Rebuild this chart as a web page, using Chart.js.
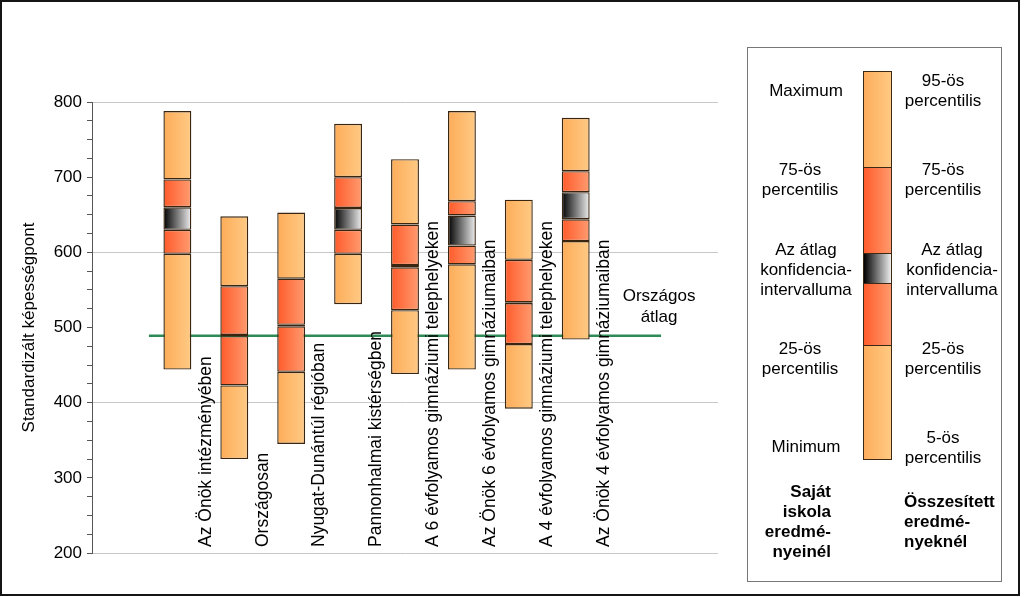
<!DOCTYPE html>
<html>
<head>
<meta charset="utf-8">
<script src="https://cdn.jsdelivr.net/npm/chart.js@4.4.1/dist/chart.umd.min.js"></script>
<style>
  body { margin: 0; background: #fff; font-family: "Liberation Sans", Arial, sans-serif; }
  #wrap { position: relative; width: 1024px; height: 597px; }
  #frame { position: absolute; left: 0; top: 0; width: 1016px; height: 592px; border: 2px solid #151515; }
  #chart { position: absolute; left: 0; top: 0; }
  #legend { position: absolute; left: 747px; top: 47px; width: 255px; height: 535px; border: 1px solid #777; box-sizing: border-box; }
  .t { position: absolute; font-size: 17px; line-height: 20px; color: #000; white-space: nowrap; }
  .c { text-align: center; }
  .b { font-weight: bold; }
  .seg { position: absolute; left: 863px; width: 29px; box-sizing: border-box; border: 1px solid #3c2814; }
</style>
</head>
<body>
<div id="wrap">
  <canvas id="chart" width="1024" height="597"></canvas>
  <div id="frame"></div>
  <div id="legend"></div>
  <div class="seg" style="top:71px;height:97px;background:linear-gradient(to right,#fdae5c,#ffc983)"></div>
  <div class="seg" style="top:167px;height:87px;background:linear-gradient(to right,#ff5c2c,#ff9a6c)"></div>
  <div class="seg" style="top:253px;height:31px;background:linear-gradient(to right,#000,#eee)"></div>
  <div class="seg" style="top:283px;height:63px;background:linear-gradient(to right,#ff5c2c,#ff9a6c)"></div>
  <div class="seg" style="top:345px;height:115px;background:linear-gradient(to right,#fdae5c,#ffc983)"></div>

  <div class="t c" style="left:746px;width:120px;top:81px">Maximum</div>
  <div class="t c" style="left:740px;width:120px;top:160px">75-ös<br>percentilis</div>
  <div class="t c" style="left:746px;width:120px;top:240px">Az átlag<br>konfidencia-<br>intervalluma</div>
  <div class="t c" style="left:740px;width:120px;top:339px">25-ös<br>percentilis</div>
  <div class="t c" style="left:746px;width:120px;top:437px">Minimum</div>
  <div class="t b" style="right:193px;top:482px;text-align:right">Saját<br>iskola<br>eredmé-<br>nyeinél</div>

  <div class="t c" style="left:883px;width:120px;top:71px">95-ös<br>percentilis</div>
  <div class="t c" style="left:883px;width:120px;top:160px">75-ös<br>percentilis</div>
  <div class="t c" style="left:892px;width:120px;top:240px">Az átlag<br>konfidencia-<br>intervalluma</div>
  <div class="t c" style="left:883px;width:120px;top:339px">25-ös<br>percentilis</div>
  <div class="t c" style="left:883px;width:120px;top:428px">5-ös<br>percentilis</div>
  <div class="t b" style="left:904px;top:492px">Összesített<br>eredmé-<br>nyeknél</div>
</div>
<script>
const categories = [
  "Az Önök intézményében",
  "Országosan",
  "Nyugat-Dunántúl régióban",
  "Pannonhalmai kistérségben",
  "A 6 évfolyamos gimnáziumi telephelyeken",
  "Az Önök 6 évfolyamos gimnáziumaiban",
  "A 4 évfolyamos gimnáziumi telephelyeken",
  "Az Önök 4 évfolyamos gimnáziumaiban",
];
const minimum = [444, 325, 345, 531, 438, 444, 392, 484];
const p25     = [598, 423, 441, 598, 523, 584, 478, 615];
const ciLow   = [630, 488.5, 501.5, 630, 580, 609, 532.5, 644];
const ciHigh  = [660, 490, 503.5, 659, 583, 649, 533.5, 680];
const p75     = [697, 555, 565, 700, 637, 668, 590, 708];
const maximum = [788, 648, 653, 771, 724, 788, 670, 779];
const nationalAvg = 489;
const yTicks = [200, 300, 400, 500, 600, 700, 800];

// one empty slot before the bars, two after
const slots = ["", ...categories, "", ""];
const pad = arr => [null, ...arr, null, null];
const range = (lo, hi) => pad(lo.map((v, i) => [v, hi[i]]));

const LIGHT = ["#fdac58", "#ffca85"];
const RED = ["#ff5a2a", "#ff9c70"];
const CI = ["#000000", "#f0f0f0"];

function grad(cols) {
  return ctx => {
    const ch = ctx.chart, xs = ch.scales && ch.scales.x;
    if (ctx.type !== "data" || !xs) return cols[0];
    const cx = xs.getPixelForValue(ctx.dataIndex);
    if (!Number.isFinite(cx)) return cols[0];
    const g = ch.ctx.createLinearGradient(cx - 14, 0, cx + 14, 0);
    g.addColorStop(0, cols[0]);
    g.addColorStop(1, cols[1]);
    return g;
  };
}

function seg(data, cols) {
  return {
    type: "bar", data, backgroundColor: grad(cols),
    borderColor: "#3a2610", borderWidth: 1.4, borderSkipped: false,
    grouped: false, categoryPercentage: 1, barPercentage: 0.49,
  };
}

const labelPlugin = {
  id: "labels",
  afterDatasetsDraw(chart) {
    const { ctx, scales: { x, x2, y } } = chart;
    ctx.save();
    ctx.font = "17.5px 'Liberation Sans', Arial, sans-serif";
    ctx.fillStyle = "#000";
    ctx.textAlign = "left";
    ctx.textBaseline = "middle";
    categories.forEach((c, i) => {
      const px = (x.getPixelForValue(i + 1) + x.getPixelForValue(i + 2)) / 2;
      ctx.save();
      ctx.translate(px, 547);
      ctx.rotate(-Math.PI / 2);
      ctx.fillText(c, 0, 0);
      ctx.restore();
    });
    const ax = x2.getPixelForValue(10), ay = y.getPixelForValue(nationalAvg);
    ctx.font = "17px 'Liberation Sans', Arial, sans-serif";
    ctx.textAlign = "center";
    ctx.fillText("Országos", ax - 2, ay - 39);
    ctx.fillText("átlag", ax - 2, ay - 18);
    ctx.restore();
  },
};

new Chart(document.getElementById("chart"), {
  data: {
    labels: slots,
    datasets: [
      seg(range(minimum, p25), LIGHT),
      seg(range(p25, ciLow), RED),
      seg(range(ciLow, ciHigh), CI),
      seg(range(ciHigh, p75), RED),
      seg(range(p75, maximum), LIGHT),
      {
        type: "line", xAxisID: "x2",
        data: [{ x: 1, y: nationalAvg }, { x: 10, y: nationalAvg }],
        borderColor: "#2e8b57", borderWidth: 2.5, pointRadius: 0,
      },
    ],
  },
  options: {
    responsive: false, animation: false,
    layout: { padding: { left: 0, right: 306, top: 102, bottom: 44 } },
    plugins: { legend: { display: false }, tooltip: { enabled: false } },
    scales: {
      x: { type: "category", display: false, offset: true },
      x2: { type: "linear", display: false, min: 0, max: 11 },
      y: {
        min: 200, max: 800,
        afterFit: s => { s.width = 92; },
        afterBuildTicks: s => {
          const t = [];
          for (let v = 200; v <= 800; v += 25) t.push({ value: v });
          s.ticks = t;
        },
        ticks: {
          callback: v => (yTicks.includes(v) ? String(v) : ""),
          font: { family: "'Liberation Sans', Arial, sans-serif", size: 17 },
          color: "#000", padding: 5, autoSkip: false,
        },
        grid: {
          color: c => (c.tick && c.tick.value % 200 === 0 ? "#c8c8c8" : "rgba(0,0,0,0)"),
          tickColor: "#555", tickLength: 5, lineWidth: 1,
        },
        border: { display: true, color: "#555" },
        title: {
          display: true, text: "Standardizált képességpont",
          font: { family: "'Liberation Sans', Arial, sans-serif", size: 17 },
          color: "#000", padding: { top: 19, bottom: 0 },
        },
      },
    },
  },
  plugins: [labelPlugin],
});
</script>
</body>
</html>
